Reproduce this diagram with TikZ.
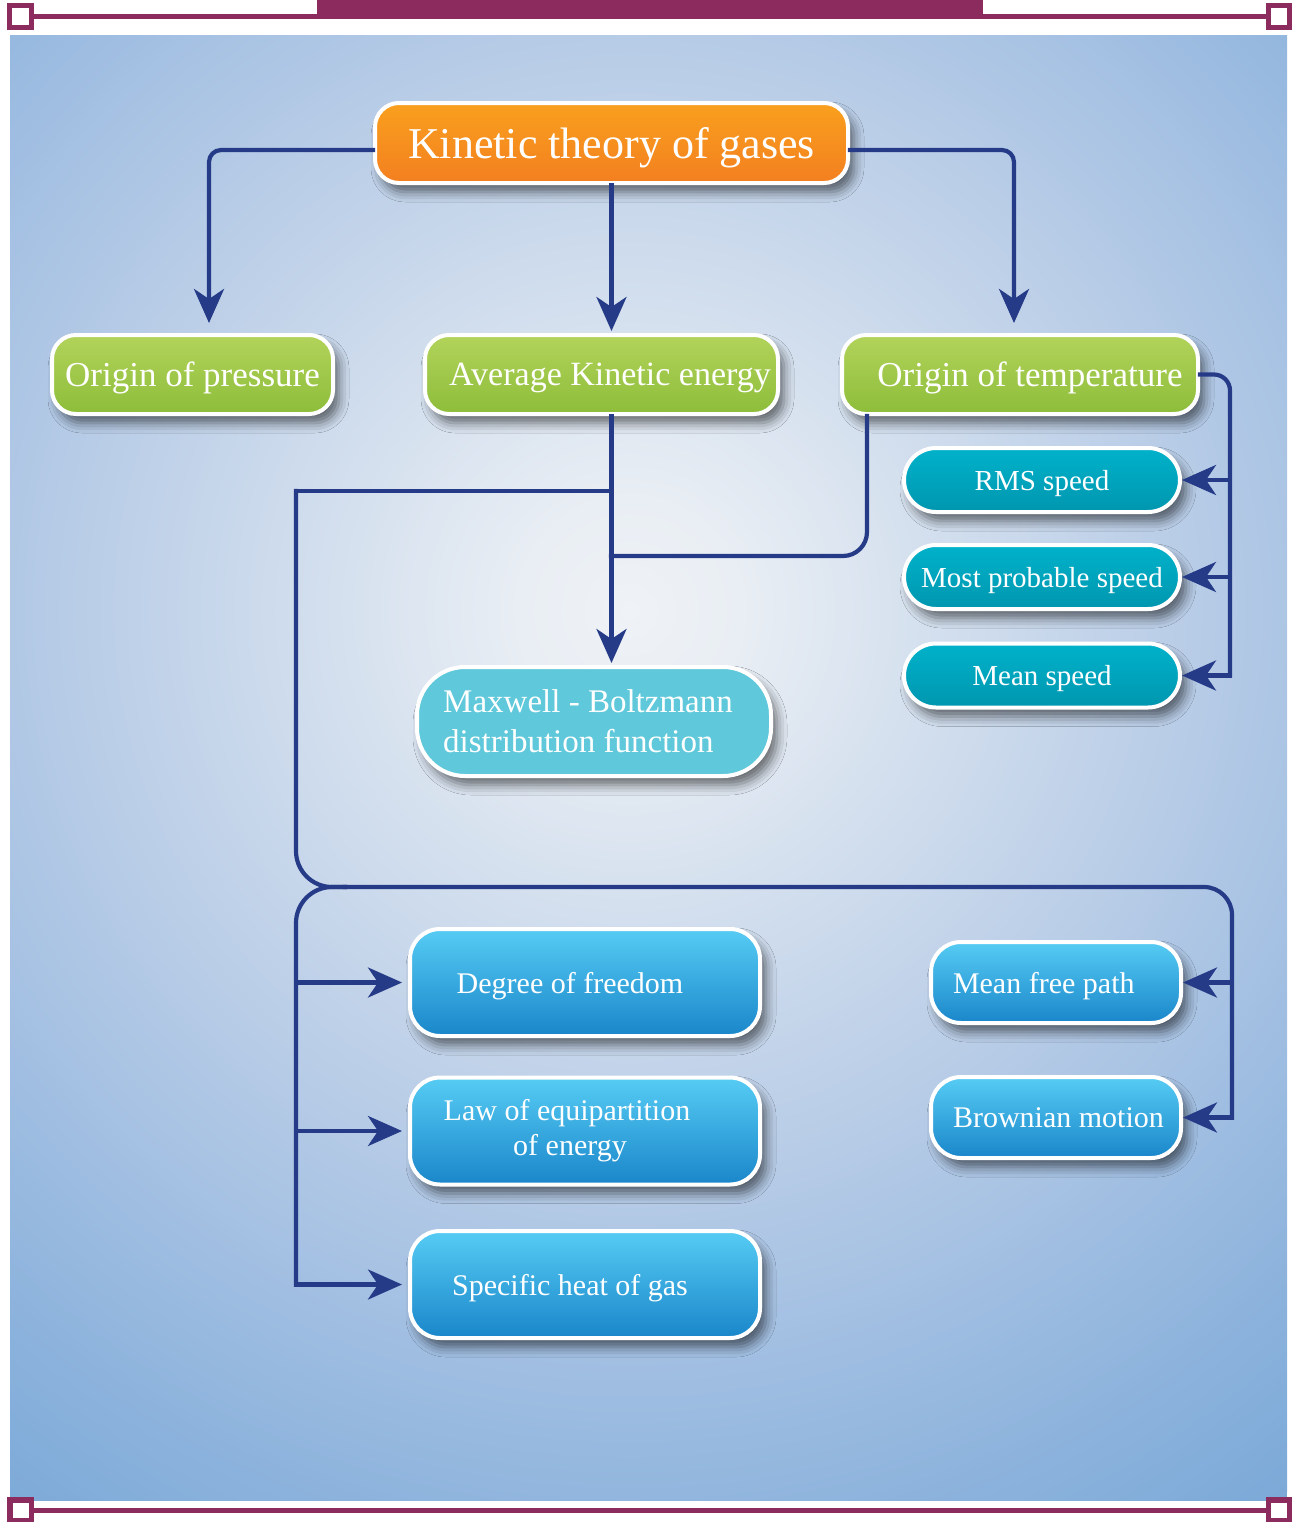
\documentclass[tikz,border=0pt]{standalone}
\usepackage{fontspec}
\setmainfont{Liberation Serif}
\usetikzlibrary{arrows.meta,shadows.blur}
\definecolor{navy}{HTML}{263B88}
\definecolor{purp}{HTML}{8C2B5E}
\definecolor{orTop}{HTML}{F9A01E}
\definecolor{orBot}{HTML}{F37F20}
\definecolor{grTop}{HTML}{B2D35A}
\definecolor{grBot}{HTML}{8DBD3A}
\definecolor{tlTop}{HTML}{00B2CA}
\definecolor{tlBot}{HTML}{0096AF}
\definecolor{mbFill}{HTML}{5FC8DA}
\definecolor{blTop}{HTML}{56CCF4}
\definecolor{blBot}{HTML}{1A86CA}
\definecolor{bgA}{HTML}{EFF2F6}
\definecolor{bgAA}{HTML}{E9EEF4}
\definecolor{bgB}{HTML}{D3DFEE}
\definecolor{bgC}{HTML}{B9CDE7}
\definecolor{bgE}{HTML}{A2BFE2}
\definecolor{bgF}{HTML}{8BB2DC}
\definecolor{bgD}{HTML}{7CA9D8}
\pgfdeclareradialshading{bgshade}{\pgfpoint{0bp}{0bp}}{color(0bp)=(bgA); color(2.5bp)=(bgAA); color(7bp)=(bgB); color(12.5bp)=(bgC); color(17bp)=(bgE); color(21.5bp)=(bgF); color(25bp)=(bgD); color(50bp)=(bgD)}
\tikzset{
  box/.style={draw=white, line width=2pt, text=white, inner sep=0pt,
    blur shadow={shadow xshift=3pt, shadow yshift=-4.5pt, shadow blur radius=5pt, shadow opacity=55}},
  oneline/.style={text depth=0pt},
  kbox/.style={box, oneline, rounded corners=12pt, top color=orTop, bottom color=orBot,
    minimum width=236.5pt, minimum height=40pt, font=\fontsize{22}{26}\selectfont},
  gbox/.style={box, oneline, rounded corners=12pt, top color=grTop, bottom color=grBot,
    minimum height=39.5pt, font=\fontsize{17.5}{21}\selectfont},
  tbox/.style={box, oneline, rounded corners=16pt, top color=tlTop, bottom color=tlBot,
    minimum width=138pt, minimum height=32pt, font=\fontsize{14.5}{17}\selectfont},
  mbox/.style={box, rounded corners=24pt, fill=mbFill, minimum width=177pt, minimum height=54.5pt,
    align=left, font=\fontsize{16.5}{20}\selectfont},
  bbox/.style={box, rounded corners=15pt, top color=blTop, bottom color=blBot,
    minimum width=175pt, minimum height=53.5pt, font=\fontsize{15}{17.5}\selectfont},
  sbox/.style={box, oneline, rounded corners=15pt, top color=blTop, bottom color=blBot,
    minimum width=125pt, minimum height=40.5pt, font=\fontsize{15}{18}\selectfont},
  conn/.style={draw=navy, line width=2.1pt, line cap=rect},
  arr/.style={conn, -{Stealth[length=17pt,width=15pt,inset=5pt]}},
}
\begin{document}
\begin{tikzpicture}[x=0.5pt,y=-0.5pt]
\useasboundingbox (0,0) rectangle (1292,1522);
% panel
\fill[bgD] (10,35) rectangle (1287,1500);
\begin{scope}
  \clip (10,35) rectangle (1287,1500);
  \shade[shading=bgshade] (630,610) circle (550pt);
\end{scope}
% border
\fill[purp] (317,0) rectangle (983,15);
\fill[purp] (20,14) rectangle (1275,19);
\fill[purp] (20,1508) rectangle (1275,1513);
\fill[purp] (7,3) rectangle (34,30);
\fill[white] (12,8) rectangle (29,25);
\fill[purp] (1266,3) rectangle (1292,30);
\fill[white] (1271,8) rectangle (1287,25);
\fill[purp] (7,1497) rectangle (34,1522);
\fill[white] (13,1503) rectangle (29,1518);
\fill[purp] (1266,1497) rectangle (1292,1522);
\fill[white] (1271,1503) rectangle (1287,1518);

% nodes
\node[kbox] (KT) at (611.5,143) {Kinetic theory of gases};
\node[gbox, minimum width=140.5pt] (OP) at (192.5,374.5) {Origin of pressure};
\node[gbox, minimum width=176.5pt, font=\fontsize{17}{21}\selectfont] (AKE) at (601.5,374.5) {\hspace*{8.5pt}Average Kinetic energy};
\node[gbox, minimum width=178pt] (OT) at (1020,374.5) {\hspace*{10pt}Origin of temperature};
\node[tbox] (RMS) at (1042,480) {RMS speed};
\node[tbox] (MPS) at (1042,577) {Most probable speed};
\node[tbox] (MS) at (1042,675.5) {Mean speed};
\node[mbox] (MB) at (594,721.5) {\hspace*{-6pt}Maxwell - Boltzmann\\\hspace*{-6pt}distribution function};
\node[bbox, oneline] (DoF) at (585,982.5) {\hspace*{-15pt}Degree of freedom};
\node[bbox, align=center] (Law) at (585,1131) {\hspace*{-18pt}Law of equipartition\\\hspace*{-15pt}of energy};
\node[bbox, oneline] (SH) at (585,1284.5) {\hspace*{-15pt}Specific heat of gas};
\node[sbox] (MFP) at (1056,982.5) {\makebox[103pt][l]{Mean free path}};
\node[sbox] (BM) at (1056,1117.5) {\makebox[103pt][l]{Brownian motion}};

% junctions
\coordinate (j1) at (611,491);
\coordinate (j2) at (611,556);
\coordinate (cL) at (296,491);
\coordinate (cB) at (296,887);
\coordinate (cR) at (1232,887);
\coordinate (cS) at (345,887);
\coordinate (rx) at (1230,375);

% connectors
\draw[arr, rounded corners=6pt, shorten >=5pt] ([yshift=-3.5pt]KT.west) -| ([xshift=8.25pt]OP.north);
\draw[arr, shorten >=1pt] (KT.south) -- (KT.south |- AKE.north);
\draw[arr, rounded corners=6pt, shorten >=5pt] ([yshift=-3.5pt]KT.east) -| ([xshift=-3pt]OT.north);

\draw[conn, rounded corners=8pt] (OT.east) -| (rx |- MS.east);
\draw[arr] (rx |- RMS.east) -- (RMS.east);
\draw[arr] (rx |- MPS.east) -- (MPS.east);
\draw[arr] (rx |- MS.east) -- (MS.east);

\draw[arr, shorten >=1pt] (AKE.south -| KT.south) -- (MB.north -| KT.south);
\draw[conn, rounded corners=12pt] ([xshift=13.5pt]OT.south west) |- (j2);

\draw[conn] (j1) -- (cL);
\draw[conn, rounded corners=18pt] (cL) -- (cB) -- (cS);
\draw[conn, rounded corners=14pt] (cS) -- (cR) -- (cR |- BM.east);
\draw[conn, rounded corners=18pt] (cS) -- (cB) -- (cB |- SH.west);
\draw[arr, shorten >=3pt] (cB |- DoF.west) -- (DoF.west);
\draw[arr, shorten >=3pt] (cB |- Law.west) -- (Law.west);
\draw[arr, shorten >=3pt] (cB |- SH.west) -- (SH.west);
\draw[arr] (cR |- MFP.east) -- (MFP.east);
\draw[arr] (cR |- BM.east) -- (BM.east);
\end{tikzpicture}
\end{document}
